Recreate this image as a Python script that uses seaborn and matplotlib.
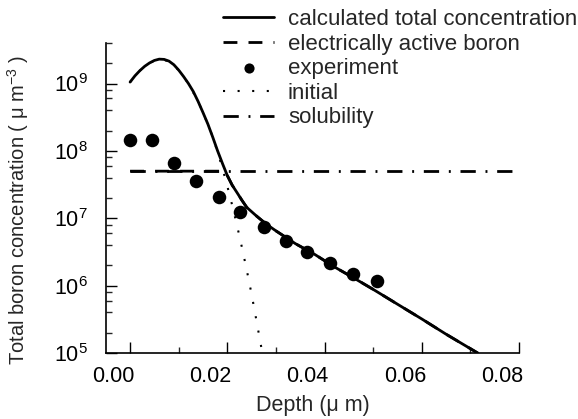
import matplotlib
matplotlib.use("Agg")
import matplotlib.pyplot as plt
import matplotlib.ticker as mticker
import matplotlib.transforms as mtrans
import seaborn as sns

# --- dados ---
x_total = [0.0, 0.001, 0.002, 0.003, 0.004, 0.005, 0.006, 0.007, 0.008, 0.009,
           0.010, 0.011, 0.012, 0.013, 0.014, 0.015, 0.016, 0.017, 0.018, 0.019,
           0.020, 0.021, 0.022, 0.023, 0.024, 0.026, 0.028, 0.030, 0.034, 0.038,
           0.042, 0.046, 0.050, 0.055, 0.060, 0.065, 0.0715]
y_total = [1.05e9, 1.3e9, 1.55e9, 1.8e9, 2.02e9, 2.2e9, 2.3e9, 2.28e9, 2.15e9, 1.9e9,
           1.58e9, 1.27e9, 1.0e9, 7.6e8, 5.4e8, 3.7e8, 2.5e8, 1.6e8, 1.0e8, 6.5e7,
           4.3e7, 3.1e7, 2.4e7, 1.85e7, 1.45e7, 1.08e7, 8.2e6, 6.5e6, 4.2e6, 2.9e6,
           1.9e6, 1.3e6, 8.8e5, 5.3e5, 3.2e5, 1.9e5, 1.0e5]

x_active = [0.0, 0.005, 0.010, 0.015, 0.0197, 0.020, 0.021, 0.022, 0.023, 0.024,
            0.026, 0.028, 0.030, 0.034, 0.038, 0.042, 0.046, 0.050, 0.055, 0.060,
            0.065, 0.0715]
y_active = [5.0e7, 5.0e7, 5.0e7, 5.0e7, 5.0e7, 4.3e7, 3.1e7, 2.4e7, 1.85e7, 1.45e7,
            1.08e7, 8.2e6, 6.5e6, 4.2e6, 2.9e6, 1.9e6, 1.3e6, 8.8e5, 5.3e5, 3.2e5,
            1.9e5, 1.0e5]

x_exp = [0.0, 0.0045, 0.0091, 0.0136, 0.0182, 0.0227, 0.0275, 0.0321, 0.0364,
         0.0412, 0.0458, 0.0507]
y_exp = [1.43e8, 1.43e8, 6.5e7, 3.6e7, 2.08e7, 1.22e7, 7.3e6, 4.6e6, 3.2e6,
         2.18e6, 1.51e6, 1.19e6]

x_init = [0.0, 0.002, 0.004, 0.006, 0.008, 0.010, 0.012, 0.014, 0.016, 0.017,
          0.018, 0.019, 0.020, 0.021, 0.022, 0.023, 0.024, 0.025, 0.026, 0.027,
          0.0272]
y_init = [1.05e9, 1.55e9, 2.02e9, 2.3e9, 2.15e9, 1.58e9, 1.0e9, 5.4e8, 2.5e8, 1.6e8,
          9.6e7, 5.5e7, 3.0e7, 1.56e7, 7.8e6, 3.7e6, 1.7e6, 7.4e5, 3.0e5, 1.2e5,
          1.0e5]

x_sol = [0.0, 0.08]
y_sol = [5.0e7, 5.0e7]

# --- estilo ---
sns.set_style("ticks")
plt.rcParams['font.family'] = ['Liberation Sans', 'DejaVu Sans']
plt.rcParams['mathtext.fontset'] = 'custom'
plt.rcParams['mathtext.rm'] = 'Liberation Sans'
plt.rcParams['mathtext.it'] = 'Liberation Sans:italic'
plt.rcParams['mathtext.bf'] = 'Liberation Sans:bold'

fs = 16
fig = plt.figure(figsize=(5.78, 4.19), dpi=100)
ax = fig.add_axes([0.183, 0.1575, 0.715, 0.74])

sns.lineplot(x=x_total, y=y_total, ax=ax, color='k', lw=2,
             label='calculated total concentration')
sns.lineplot(x=x_active, y=y_active, ax=ax, color='k', lw=2,
             linestyle=(0, (5, 4)), label='electrically active boron')
sns.scatterplot(x=x_exp, y=y_exp, ax=ax, color='k', s=95, edgecolor='k',
                linewidth=0, zorder=3, label='experiment')
sns.lineplot(x=x_init, y=y_init, ax=ax, color='k', lw=1.5,
             linestyle=(0, (1, 6)), label='initial')
sns.lineplot(x=x_sol, y=y_sol, ax=ax, color='k', lw=2,
             linestyle=(0, (5.5, 3.5, 0.7, 3.5)), label='solubility')

ax.set_yscale('log')
ax.set_xlim(-0.005, 0.08)
ax.set_ylim(1e5, 4e9)

ax.xaxis.set_major_locator(mticker.MultipleLocator(0.02))
ax.xaxis.set_minor_locator(mticker.MultipleLocator(0.01))
ax.xaxis.set_major_formatter(mticker.FormatStrFormatter('%.2f'))
ax.yaxis.set_major_locator(mticker.LogLocator(base=10, numticks=20))
ax.yaxis.set_minor_locator(mticker.LogLocator(base=10, subs=[2, 4, 6, 8], numticks=20))
ax.yaxis.set_minor_formatter(mticker.NullFormatter())

ax.tick_params(which='major', direction='in', length=8, width=1, labelsize=fs - 0.5, colors='k')
ax.tick_params(which='minor', direction='in', length=4, width=1)
ax.tick_params(axis='x', which='major', pad=9)
ax.tick_params(axis='y', which='major', pad=13)

sns.despine(ax=ax)
for s in ['left', 'bottom']:
    ax.spines[s].set_linewidth(1.2)
    ax.spines[s].set_color('k')

ax.set_xlabel('Depth (μ m)', fontsize=fs - 0.5, labelpad=6)
ax.set_ylabel('Total boron concentration ( μ m$^{-3}$ )', fontsize=14.5)
ax.yaxis.set_label_coords(-0.18, 0.46)

# rótulos do eixo x ficam um pouco à esquerda dos ticks, como no original
desloc = mtrans.ScaledTranslation(-17 / 100, 0, fig.dpi_scale_trans)
for t in ax.xaxis.get_major_ticks():
    t.label1.set_transform(t.label1.get_transform() + desloc)

leg = ax.legend(loc='upper left', bbox_to_anchor=(0.386, 0.978),
                bbox_transform=fig.transFigure, frameon=False, fontsize=fs,
                borderpad=0, borderaxespad=0, handlelength=2.3,
                handletextpad=0.62, labelspacing=0.16, markerscale=0.75,
                scatterpoints=1)

fig.savefig('out.png', dpi=100)
plt.close()
